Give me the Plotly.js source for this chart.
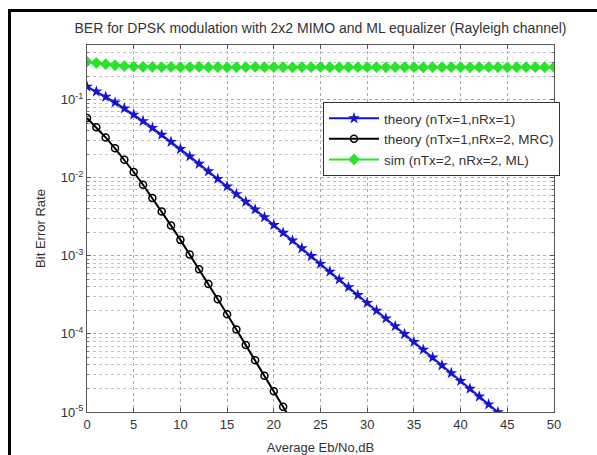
<!DOCTYPE html>
<html>
<head>
<meta charset="utf-8">
<script src="https://cdn.plot.ly/plotly-3.0.1.min.js"></script>
<style>
html,body{margin:0;padding:0;background:#fff;}
#wrap{position:relative;width:597px;height:455px;overflow:hidden;}
#chart{position:absolute;left:0;top:0;width:597px;height:455px;}
#frame{position:absolute;left:8px;top:9px;width:620px;height:500px;border-left:3px solid #000;border-top:3px solid #000;pointer-events:none;}
</style>
</head>
<body>
<div id="wrap"><div id="chart"></div><div id="frame"></div></div>
<script>
// Eb/No (dB)
const ebno1 = [0,1,2,3,4,5,6,7,8,9,10,11,12,13,14,15,16,17,18,19,20,21,22,23,24,25,26,27,28,29,30,31,32,33,34,35,36,37,38,39,40,41,42,43,44,45];
const berTheory1 = [0.1464,0.1268,0.1085,0.09191,0.07713,0.06418,0.05300,0.04347,0.03546,0.02878,0.02327,0.01874,0.01506,0.01208,0.009664,0.007723,0.006164,0.004915,0.003916,0.003118,0.002481,0.001974,0.001570,0.001248,0.0009923,0.0007887,0.0006268,0.0004981,0.0003958,0.0003144,0.0002498,0.0001985,0.0001577,0.0001253,0.00009950,0.00007904,0.00006279,0.00004988,0.00003962,0.00003147,0.00002500,0.00001986,0.00001577,0.00001253,0.000009953,0.000007906];

const ebno2 = [0,1,2,3,4,5,6,7,8,9,10,11,12,13,14,15,16,17,18,19,20,21,22];
const berTheoryMRC = [0.05806,0.04413,0.03275,0.02379,0.01693,0.01183,0.008129,0.005505,0.003683,0.002437,0.001599,0.001041,0.0006737,0.0004340,0.0002784,0.0001780,0.0001135,0.00007222,0.00004588,0.00002910,0.00001844,0.00001168,0.000007387];

const ebno3 = [0,1,2,3,4,5,6,7,8,9,10,11,12,13,14,15,16,17,18,19,20,21,22,23,24,25,26,27,28,29,30,31,32,33,34,35,36,37,38,39,40,41,42,43,44,45,46,47,48,49,50];
const berSimML = [0.305,0.295,0.284,0.275,0.269,0.265,0.263,0.262,0.261,0.262,0.260,0.261,0.262,0.260,0.261,0.259,0.261,0.260,0.262,0.260,0.261,0.260,0.259,0.261,0.260,0.262,0.260,0.259,0.261,0.260,0.260,0.261,0.259,0.260,0.261,0.260,0.259,0.261,0.260,0.260,0.261,0.259,0.260,0.261,0.260,0.259,0.260,0.261,0.260,0.260,0.261];

const seriesNames = ['theory (nTx=1,nRx=1)','theory (nTx=1,nRx=2, MRC)','sim (nTx=2, nRx=2, ML)'];
const xTicks = [0,5,10,15,20,25,30,35,40,45,50];
const yTicks = [1e-5,1e-4,1e-3,1e-2,1e-1];
const yTickText = ['10<sup>-5</sup>','10<sup>-4</sup>','10<sup>-3</sup>','10<sup>-2</sup>','10<sup>-1</sup>'];

const minorY = [];
for (let e = -5; e <= -1; e++) {
  for (let m = 2; m <= 9; m++) {
    const v = m * Math.pow(10, e);
    if (v <= 0.5 + 1e-12) minorY.push(v);
  }
}

const font = 'Arial, "Liberation Sans", sans-serif';
const txt = '#333';
const traces = [
  {x: ebno1, y: berTheory1, name: seriesNames[0], type: 'scatter', mode: 'lines+markers',
   line: {color: 'rgb(20,20,210)', width: 2}, marker: {symbol: 'star', size: 9, color: 'rgb(20,20,210)'}, cliponaxis: true},
  {x: ebno2, y: berTheoryMRC, name: seriesNames[1], type: 'scatter', mode: 'lines+markers',
   line: {color: '#000', width: 2}, marker: {symbol: 'circle-open', size: 7, color: '#000', line: {width: 1.5}}, cliponaxis: true},
  {x: ebno3, y: berSimML, name: seriesNames[2], type: 'scatter', mode: 'lines+markers',
   line: {color: 'rgb(40,228,40)', width: 2}, marker: {symbol: 'diamond', size: 9, color: 'rgb(40,228,40)'}, cliponaxis: true}
];

const layout = {
  width: 597, height: 455,
  margin: {l: 87, r: 43, t: 45, b: 43},
  paper_bgcolor: '#fff', plot_bgcolor: '#fff',
  font: {family: font, size: 13, color: txt},
  showlegend: true,
  title: {text: 'BER for DPSK modulation with 2x2 MIMO and ML equalizer (Rayleigh channel)',
          font: {family: font, size: 14, color: txt}, x: 0.5, xref: 'paper', xanchor: 'center',
          y: 1 - 28/455, yref: 'container', yanchor: 'middle'},
  xaxis: {range: [0, 50], tickvals: xTicks, ticktext: xTicks.map(String),
          showline: true, linecolor: '#555', linewidth: 1, mirror: 'ticks',
          ticks: 'inside', ticklen: 4, tickcolor: '#555',
          showgrid: true, gridcolor: '#aaa', griddash: 'dot', gridwidth: 1, zeroline: false,
          tickfont: {family: font, size: 13, color: txt},
          title: {text: 'Average Eb/No,dB', font: {family: font, size: 13, color: txt}, standoff: 12}},
  yaxis: {type: 'log', range: [-5, Math.log10(0.5)], tickvals: yTicks, ticktext: yTickText,
          showline: true, linecolor: '#555', linewidth: 1, mirror: 'ticks',
          ticks: 'inside', ticklen: 4, tickcolor: '#555',
          showgrid: true, gridcolor: '#aaa', griddash: 'dot', gridwidth: 1, zeroline: false,
          minor: {tickvals: minorY, showgrid: true, gridcolor: '#c4c4c4', griddash: 'dot', gridwidth: 1, ticks: 'inside', ticklen: 2, tickcolor: '#777'},
          tickfont: {family: font, size: 13, color: txt},
          title: {text: 'Bit Error Rate', font: {family: font, size: 13, color: txt}, standoff: 12}},
  legend: {x: (323-87)/467, y: (412-102)/367, xanchor: 'left', yanchor: 'top',
           bgcolor: '#fff', bordercolor: '#333', borderwidth: 1,
           font: {family: font, size: 13.5, color: txt}, tracegroupgap: 0, itemwidth: 50}
};

Plotly.newPlot('chart', traces, layout, {displayModeBar: false, staticPlot: true});
</script>
</body>
</html>
